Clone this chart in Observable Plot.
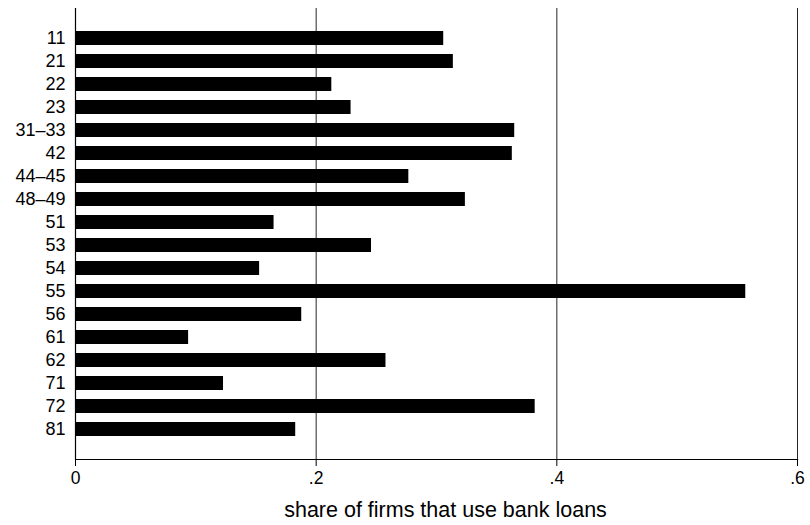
<!DOCTYPE html>
<html>
<head>
<meta charset="utf-8">
<script src="https://cdn.jsdelivr.net/npm/d3@7"></script>
<script src="https://cdn.jsdelivr.net/npm/@observablehq/plot@0.6"></script>
<style>
  html, body { margin: 0; padding: 0; background: #fff; }
  #chart svg { font-family: "Liberation Sans", Arial, sans-serif; }
</style>
</head>
<body>
<div id="chart"></div>
<script>
const industries = ["11","21","22","23","31–33","42","44–45","48–49","51","53","54","55","56","61","62","71","72","81"];
const shares = [0.306, 0.314, 0.213, 0.229, 0.365, 0.363, 0.277, 0.324, 0.165, 0.246, 0.153, 0.557, 0.188, 0.094, 0.258, 0.123, 0.382, 0.183];
const xTicks = [0, 0.2, 0.4, 0.6];
const xTickLabels = ["0", ".2", ".4", ".6"];
const xTitle = "share of firms that use bank loans";

const data = industries.map((c, i) => ({industry: c, share: shares[i]}));

const chart = Plot.plot({
  width: 810,
  height: 525,
  marginLeft: 75,
  marginRight: 13,
  marginTop: 8,
  marginBottom: 66,
  style: {fontFamily: "Liberation Sans, Arial, sans-serif", fontSize: "17px", color: "#000", background: "#fff"},
  x: {domain: [0, 0.6]},
  y: {domain: industries, range: [25.4, 441.6], paddingInner: 0.4, paddingOuter: 0.2},
  marks: [
    Plot.ruleX(xTicks.slice(1), {stroke: "#000", strokeWidth: 1, strokeOpacity: 0.85}),
    Plot.barX(data, {x: "share", y: "industry", fill: "#000"}),
    Plot.ruleX([0], {stroke: "#000", strokeWidth: 1.2}),
    Plot.frame({anchor: "bottom", stroke: "#000", strokeWidth: 1.2}),
    Plot.axisY({tickSize: 0, tickPadding: 10, fontSize: 18, label: null}),
    Plot.axisX({ticks: xTicks, tickFormat: (d, i) => xTickLabels[i], tickSize: 7, tickPadding: 5, fontSize: 17.5,
      label: null}),
    Plot.text([xTitle], {text: d => d, frameAnchor: "bottom", dx: 9, dy: 51, lineAnchor: "middle", fontSize: 21.5, fill: "#000"})
  ]
});
document.getElementById("chart").appendChild(chart);
</script>
</body>
</html>
